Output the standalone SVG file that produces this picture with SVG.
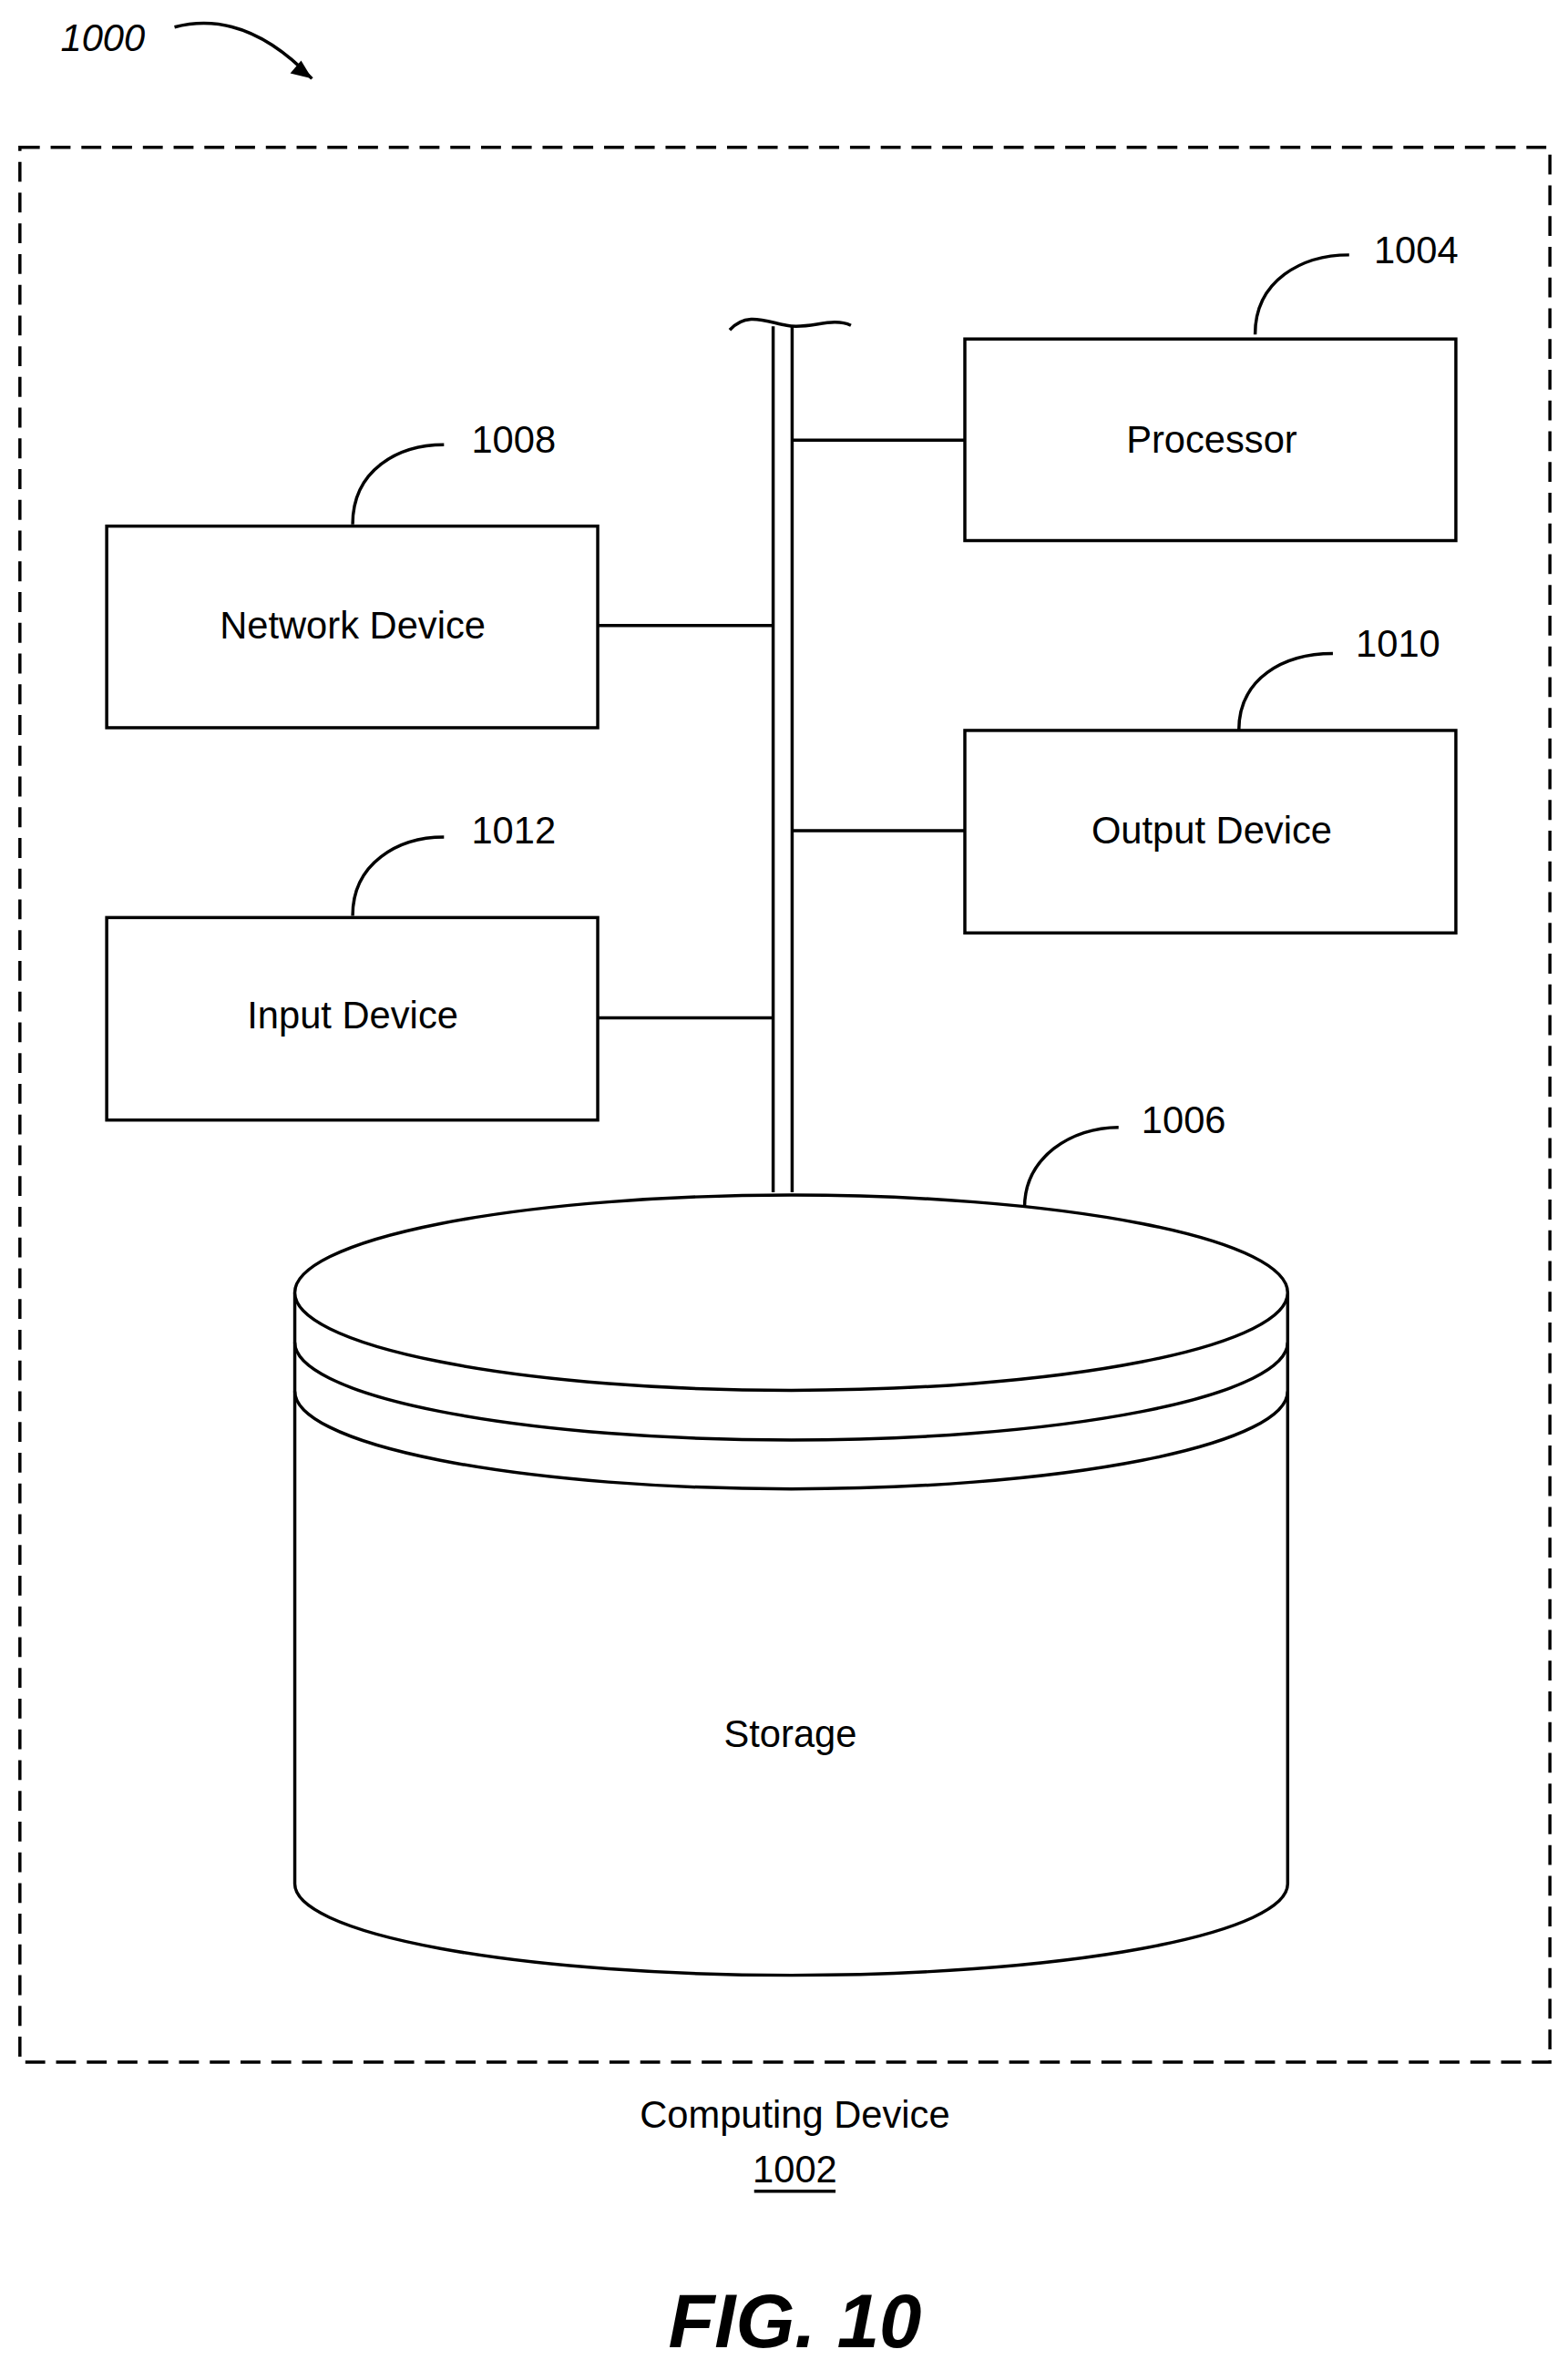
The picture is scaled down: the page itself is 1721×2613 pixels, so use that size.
<svg xmlns="http://www.w3.org/2000/svg" width="1721" height="2613" viewBox="0 0 1721 2613">
<style>
.b{fill:#fff;stroke:#000;stroke-width:3.5}
.l{fill:none;stroke:#000;stroke-width:3.5}
.t{font-family:"Liberation Sans",Arial,sans-serif;font-size:42px;text-anchor:middle;fill:#000}
</style>
<rect width="1721" height="2613" fill="#fff"/>
<g transform="scale(0.9925)">
<rect x="22" y="163" width="1692" height="2118" fill="none" stroke="#000" stroke-width="3.5" stroke-dasharray="22,12"/>
<text x="67" y="56" class="t" style="text-anchor:start;font-style:italic">1000</text>
<path class="l" d="M193,30 C250,15 300,40 345,87"/>
<path d="M345,87 l-24,-6 l12,-14 z" fill="#000"/>
<g id="connectors">
<path class="l" d="M855,361 V1319 M876,361 V1319"/>
<path class="l" d="M807,365 C825,345 845,355 870,360 C895,365 920,350 941,360"/>
<path class="l" d="M876,487 H1067 M661,692 H855 M876,919 H1067 M661,1126 H855"/>
</g>
<g id="processor"><rect class="b" x="1067" y="375" width="543" height="223"/><text class="t" x="1340" y="501">Processor</text>
<path class="l" d="M1388,370 C1388,310 1440,282 1492,282"/><text class="t" x="1566" y="291">1004</text></g>
<g id="network"><rect class="b" x="118" y="582" width="543" height="223"/><text class="t" x="390" y="706">Network Device</text>
<path class="l" d="M390,580 C390,520 440,492 491,492"/><text class="t" x="568" y="501">1008</text></g>
<g id="output"><rect class="b" x="1067" y="808" width="543" height="224"/><text class="t" x="1340" y="933">Output Device</text>
<path class="l" d="M1370,808 C1370,750 1420,723 1474,723"/><text class="t" x="1546" y="726">1010</text></g>
<g id="input"><rect class="b" x="118" y="1015" width="543" height="224"/><text class="t" x="390" y="1138">Input Device</text>
<path class="l" d="M390,1013 C390,955 440,926 491,926"/><text class="t" x="568" y="933">1012</text></g>
<g id="storage">
<path class="b" d="M326,1430 V2084 A549,101 0 0 0 1424,2084 V1430"/>
<ellipse class="b" cx="875" cy="1430" rx="549" ry="108"/>
<path class="l" d="M326,1485 A549,108 0 0 0 1424,1485 M326,1539 A549,108 0 0 0 1424,1539"/>
<text class="t" x="874" y="1932">Storage</text>
<path class="l" d="M1133,1336 C1133,1280 1185,1247 1237,1247"/><text class="t" x="1309" y="1253">1006</text></g>
<text class="t" x="879" y="2354">Computing Device</text>
<text class="t" x="879" y="2414">1002</text>
<path class="l" d="M834,2424 H924" stroke-width="2.5"/>
<text class="t" x="879" y="2596" style="font-size:84px;font-weight:bold;font-style:italic">FIG. 10</text>
</g>
</svg>
